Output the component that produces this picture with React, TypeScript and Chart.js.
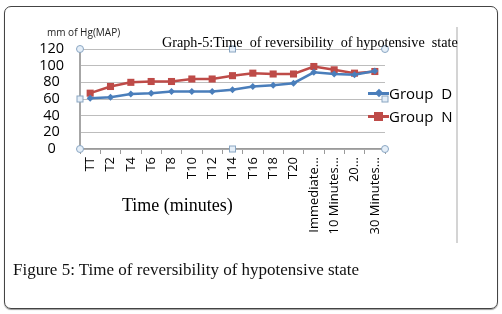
import React, { useEffect, useRef } from "react";
import { Chart, registerables } from "chart.js";

Chart.register(...registerables);

const categories = [
  "TT", "T2", "T4", "T6", "T8", "T10", "T12", "T14", "T16", "T18", "T20",
  "Immediate...", "10 Minutes...", "20...", "30 Minutes...",
];
const groupD = [61, 62, 66, 67, 69, 69, 69, 71, 75, 76.5, 79, 92, 90, 89, 93.5];
const groupN = [67, 75, 80, 81, 81, 84, 84, 88, 91, 90, 90, 99, 95, 91, 93];
const yTickMin = 0;
const yTickMax = 120;
const yTickStep = 20;

const blue = "#4A7EBB";
const red = "#BE4B48";

const handlesPlugin = {
  id: "handles",
  afterDraw(chart: any) {
    const { ctx, chartArea } = chart;
    const { left, right, top, bottom } = chartArea;
    const mx = (left + right) / 2;
    const my = (top + bottom) / 2;
    ctx.save();
    ctx.lineWidth = 1;
    ctx.strokeStyle = "#8aa6c2";
    ctx.fillStyle = "#e4eef8";
    const circ = (x: number, y: number) => {
      ctx.beginPath();
      ctx.arc(x, y, 3.5, 0, Math.PI * 2);
      ctx.fill();
      ctx.stroke();
    };
    const sq = (x: number, y: number) => {
      ctx.fillRect(x - 3, y - 3, 6, 6);
      ctx.strokeRect(x - 3, y - 3, 6, 6);
    };
    circ(left, top);
    circ(right, top);
    circ(left, bottom);
    circ(right, bottom);
    sq(left, my);
    sq(right, my);
    sq(mx, top);
    sq(mx, bottom);
    ctx.restore();
  },
};

function ChartCanvas() {
  const ref = useRef<HTMLCanvasElement>(null);
  useEffect(() => {
    if (!ref.current) return;
    const chart = new Chart(ref.current, {
      type: "line",
      data: {
        labels: categories,
        datasets: [
          {
            label: "Group D",
            data: groupD,
            borderColor: blue,
            backgroundColor: blue,
            borderWidth: 2.5,
            pointStyle: "rectRot",
            pointRadius: 3.5,
            pointBorderWidth: 0,
            tension: 0,
          },
          {
            label: "Group N",
            data: groupN,
            borderColor: red,
            backgroundColor: red,
            borderWidth: 2.5,
            pointStyle: "rect",
            pointRadius: 5,
            pointBorderWidth: 0,
            tension: 0,
          },
        ],
      },
      options: {
        responsive: false,
        animation: false,
        devicePixelRatio: 1,
        layout: { padding: { top: 49, right: 117, left: 0, bottom: 0 } },
        plugins: { legend: { display: false }, title: { display: false }, tooltip: { enabled: false } },
        scales: {
          x: {
            type: "category",
            offset: true,
            grid: {
              offset: true,
              drawOnChartArea: false,
              drawTicks: true,
              tickLength: 5,
              color: "#9a9a9a",
            },
            border: { color: "#9a9a9a", width: 1.5 },
            ticks: {
              autoSkip: false,
              minRotation: 90,
              maxRotation: 90,
              padding: 3,
              color: "#000",
              font: { family: "'Open Sans'", size: 13 },
            },
            afterFit: (s: any) => {
              s.height = 165;
            },
          },
          y: {
            min: yTickMin,
            max: yTickMax,
            ticks: {
              stepSize: yTickStep,
              autoSkip: false,
              crossAlign: "center",
              padding: 16,
              color: "#000",
              font: { family: "'Open Sans'", size: 14.5 },
            },
            grid: { color: "#bdbdbd", drawTicks: false, lineWidth: 1 },
            border: { color: "#a6a6a6", width: 2 },
            afterFit: (s: any) => {
              s.width = 80;
            },
          },
        },
      },
      plugins: [handlesPlugin],
    } as any);
    return () => chart.destroy();
  }, []);
  return (
    <canvas
      ref={ref}
      width={502}
      height={314}
      style={{ position: "absolute", left: 0, top: 0, width: 502, height: 314 }}
    />
  );
}

function LegendItem({ label, color, square, top }: { label: string; color: string; square: boolean; top: number }) {
  return (
    <div style={{ position: "absolute", left: 368, top, height: 20, width: 90 }}>
      <div style={{ position: "absolute", left: 0, top: 9, width: 21, height: 2.5, background: color }} />
      {square ? (
        <div style={{ position: "absolute", left: 6, top: 6, width: 9, height: 9, background: color }} />
      ) : (
        <div
          style={{
            position: "absolute",
            left: 7.5,
            top: 7,
            width: 6,
            height: 6,
            background: color,
            transform: "rotate(45deg)",
          }}
        />
      )}
      <div
        style={{
          position: "absolute",
          left: 21,
          top: 0,
          lineHeight: "20px",
          fontFamily: "'Open Sans'",
          fontSize: 15,
          color: "#000",
          whiteSpace: "pre",
        }}
      >
        {label}
      </div>
    </div>
  );
}

export default function App() {
  return (
    <div
      style={{
        position: "absolute",
        left: 0,
        top: 0,
        width: 502,
        height: 314,
        background: "#fff",
        overflow: "hidden",
      }}
    >
      <div
        style={{
          position: "absolute",
          left: 4,
          top: 6,
          width: 492,
          height: 301,
          border: "1.5px solid #444",
          borderRadius: 7,
          boxShadow: "0 1px 1px #999",
        }}
      />
      <div
        style={{
          position: "absolute",
          left: 456,
          top: 27,
          width: 2,
          height: 216,
          background: "#d4d4d4",
        }}
      />
      <ChartCanvas />
      <div
        style={{
          position: "absolute",
          left: 47,
          top: 25,
          fontFamily: "'Open Sans'",
          fontSize: 10,
          color: "#222",
          whiteSpace: "pre",
        }}
      >
        mm of Hg(MAP)
      </div>
      <div
        style={{
          position: "absolute",
          left: 162,
          top: 33,
          fontFamily: "'Liberation Serif'",
          fontSize: 14.2,
          color: "#000",
          whiteSpace: "pre",
          lineHeight: "18px",
        }}
      >
        {"Graph-5:Time  of reversibility  of hypotensive  state"}
      </div>
      <div
        style={{
          position: "absolute",
          left: 122,
          top: 194,
          fontFamily: "'Liberation Serif'",
          fontSize: 18,
          color: "#000",
          whiteSpace: "pre",
          lineHeight: "22px",
        }}
      >
        Time (minutes)
      </div>
      <LegendItem label={"Group  D"} color={blue} square={false} top={83} />
      <LegendItem label={"Group  N"} color={red} square={true} top={106} />
      <div
        style={{
          position: "absolute",
          left: 13,
          top: 260,
          fontFamily: "'Liberation Serif'",
          fontSize: 17,
          color: "#111",
          whiteSpace: "pre",
          lineHeight: "20px",
        }}
      >
        Figure 5: Time of reversibility of hypotensive state
      </div>
    </div>
  );
}
